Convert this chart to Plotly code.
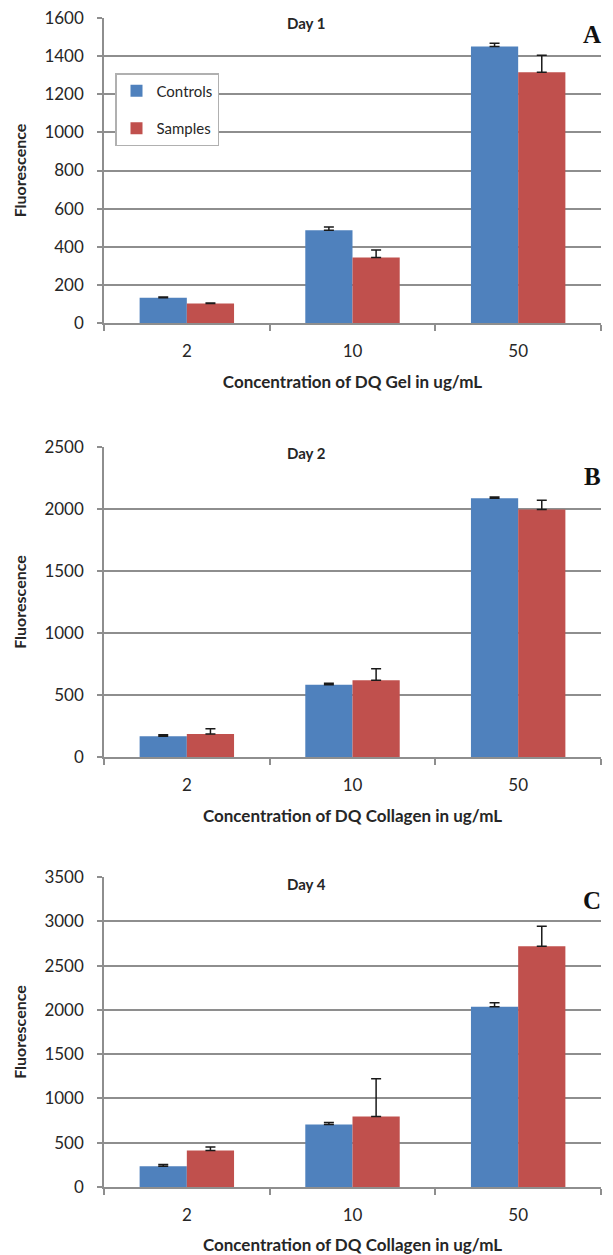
import plotly.graph_objects as go

# The page body adds an 8px offset; the figure is sized/placed to compensate.
OFF = 8
W, H = 613 - OFF, 1255 - OFF

categories = ["2", "10", "50"]

controls_day1 = [133, 487, 1451]
controls_day1_err = [3, 17, 16]
samples_day1 = [102, 343, 1315]
samples_day1_err = [3, 40, 90]

controls_day2 = [167, 583, 2086]
controls_day2_err = [13, 11, 11]
samples_day2 = [185, 618, 1995]
samples_day2_err = [43, 94, 75]

controls_day4 = [234, 705, 2036]
controls_day4_err = [19, 23, 45]
samples_day4 = [411, 796, 2719]
samples_day4_err = [41, 426, 226]

day_labels = ["Day 1", "Day 2", "Day 4"]
panel_letters = ["A", "B", "C"]
x_titles = ["Concentration of DQ Gel in ug/mL",
            "Concentration of DQ Collagen in ug/mL",
            "Concentration of DQ Collagen in ug/mL"]
y_maxes = [1600, 2500, 3500]
y_dticks = [200, 500, 500]

series_names = ["Controls", "Samples"]
colors = ["#4F81BD", "#C0504D"]

panels = [
    (controls_day1, controls_day1_err, samples_day1, samples_day1_err),
    (controls_day2, controls_day2_err, samples_day2, samples_day2_err),
    (controls_day4, controls_day4_err, samples_day4, samples_day4_err),
]

# reference-pixel layout (top, bottom) of each plot area
plot_px = [(18, 323), (447, 757), (877, 1187)]
x_left_px, x_right_px = 104, 601
day_y_px = [23, 453, 884]
letter_y_px = [35, 477, 900]


def fx(px):
    return (px - OFF) / W


def fy(py):
    return 1 - (py - OFF) / H


FONT = "Lato, 'Open Sans', sans-serif"
TXT = "#262626"
GRID = "#8e8e8e"

fig = go.Figure()
for i, (c, ce, s, se) in enumerate(panels):
    xa = "x" if i == 0 else f"x{i+1}"
    ya = "y" if i == 0 else f"y{i+1}"
    for j, (vals, errs) in enumerate([(c, ce), (s, se)]):
        fig.add_trace(go.Bar(
            x=categories, y=vals, name=series_names[j],
            marker=dict(color=colors[j], line=dict(width=0)),
            error_y=dict(type="data", symmetric=False, array=errs,
                         arrayminus=[0] * len(errs), color="#1a1a1a",
                         thickness=1.5, width=5),
            xaxis=xa, yaxis=ya, showlegend=(i == 0),
            legendgroup=series_names[j],
        ))

layout = dict(
    width=W, height=H,
    margin=dict(l=0, r=0, t=0, b=0),
    paper_bgcolor="white", plot_bgcolor="white",
    barmode="group", bargap=0.43, bargroupgap=0,
    font=dict(family=FONT, color=TXT, size=16),
    legend=dict(
        x=fx(115), y=fy(73), xanchor="left", yanchor="top",
        bgcolor="white", bordercolor="#b0b0b0", borderwidth=1.5,
        font=dict(size=15, family=FONT, color=TXT),
        traceorder="grouped", tracegroupgap=15,
        itemwidth=30,
    ),
)

annotations = []
for i in range(3):
    top, bot = plot_px[i]
    xkey = "xaxis" if i == 0 else f"xaxis{i+1}"
    ykey = "yaxis" if i == 0 else f"yaxis{i+1}"
    ya = "y" if i == 0 else f"y{i+1}"
    xa = "x" if i == 0 else f"x{i+1}"
    layout[xkey] = dict(
        domain=[fx(x_left_px), fx(x_right_px)],
        anchor=ya, type="category", automargin=False,
        showline=True, linecolor=GRID, linewidth=1.5,
        ticks="outside", tickson="boundaries", ticklen=6, tickcolor=GRID,
        tickwidth=1.5, showgrid=False,
        tickfont=dict(size=17, family=FONT, color=TXT),
        ticklabelstandoff=12,
        title=dict(text=f"<b>{x_titles[i]}</b>", standoff=16,
                   font=dict(size=17, family=FONT, color=TXT)),
    )
    layout[ykey] = dict(
        domain=[fy(bot), fy(top)],
        anchor=xa, range=[0, y_maxes[i]], dtick=y_dticks[i], automargin=False,
        showline=True, linecolor=GRID, linewidth=1.5,
        ticks="outside", ticklen=5, tickcolor=GRID, tickwidth=1.5,
        showgrid=True, gridcolor=GRID, gridwidth=1.5,
        zeroline=False, ticklabeloverflow="allow",
        tickfont=dict(size=17, family=FONT, color=TXT),
        ticklabelstandoff=10,
        title=dict(text="<b>Fluorescence</b>", standoff=14,
                   font=dict(size=16, family=FONT, color=TXT)),
    )
    annotations.append(dict(
        text=f"<b>{day_labels[i]}</b>", xref="paper", yref="paper",
        x=fx(306), y=fy(day_y_px[i]), xanchor="center", yanchor="middle",
        showarrow=False, font=dict(size=15, family=FONT, color=TXT),
    ))
    annotations.append(dict(
        text=f"<b>{panel_letters[i]}</b>", xref="paper", yref="paper",
        x=fx(603), y=fy(letter_y_px[i]), xanchor="right", yanchor="middle",
        showarrow=False,
        font=dict(size=25, family="'Liberation Serif', 'DejaVu Serif', serif",
                  color="#111111"),
    ))

layout["annotations"] = annotations
fig.update_layout(**layout)
fig.write_html("out.html")
